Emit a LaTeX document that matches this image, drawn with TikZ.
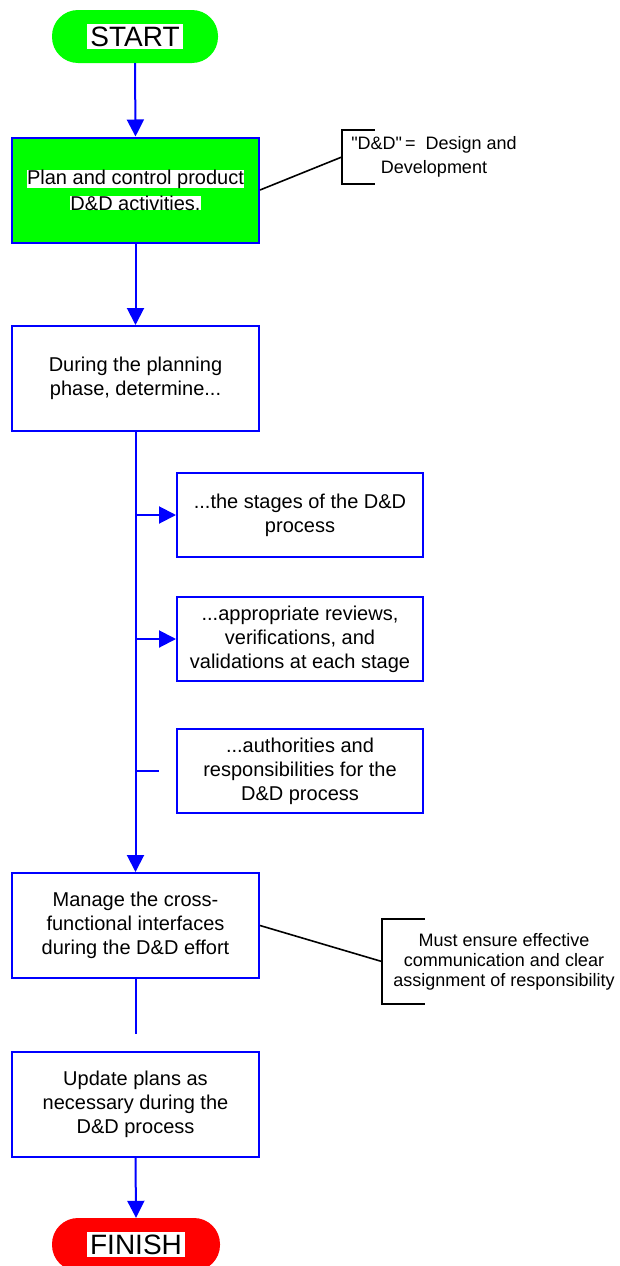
\documentclass[tikz,border=0pt]{standalone}
\usepackage{fontspec}
\setmainfont{Liberation Sans}[Ligatures=TeXOff]
\usetikzlibrary{arrows.meta}
\definecolor{flowblue}{RGB}{0,0,255}
\definecolor{flowgreen}{RGB}{0,255,0}
\definecolor{flowred}{RGB}{255,0,0}
% white band behind a line of text
\newcommand\whitebg[2][0pt]{{\setlength\fboxsep{#1}\colorbox{white}{#2}}}

\begin{document}
\begin{tikzpicture}[x=1pt,y=-1pt,
  terminal/.style={rectangle, rounded corners=26pt, minimum width=166pt,
    minimum height=53pt, inner sep=0pt, draw=none,
    font=\fontsize{28}{30}\selectfont},
  stepbox/.style={rectangle, draw=flowblue, line width=2pt, fill=white,
    minimum width=247pt, minimum height=105pt, inner sep=0pt, align=center,
    font=\fontsize{20}{24}\selectfont},
  subbox/.style={stepbox, minimum width=246pt, minimum height=84pt},
  flow/.style={draw=flowblue, line width=2pt},
  flowarrow/.style={flow, -{Triangle[length=17pt,width=17pt]}},
  note/.style={rectangle, inner sep=0pt, align=center},
  bracket/.style={draw=black, line width=2pt},
  link/.style={draw=black, line width=1.6pt},
]
\useasboundingbox (0,0) rectangle (620,1266);

% terminals
\node[terminal, fill=flowgreen] (start) at (135,36.5) {\whitebg[3pt]{START}};
\node[terminal, fill=flowred, minimum width=168pt] (finish) at (136,1244.5) {\whitebg[3pt]{FINISH}};

% main steps
\node[stepbox, fill=flowgreen] (box1) at (135.5,190)
  {\whitebg{Plan and control product}\\[2pt]\whitebg{D\&D activities.}};
\node[stepbox] (box2) at (135.5,378.5) {During the planning\\phase, determine...};
\node[stepbox] (box4) at (135.5,925.5) {Manage the cross-\\functional interfaces\\during the D\&D effort};
\node[stepbox] (box5) at (135.5,1104) {Update plans as\\necessary during the\\D\&D process};

% items to determine
\node[subbox] (subA) at (300,515) {...the stages of the D\&D\\process};
\node[subbox] (subB) at (300,639) {...appropriate reviews,\\verifications, and\\validations at each stage};
\node[subbox] (subC) at (300,771) {...authorities and\\responsibilities for the\\D\&D process};

% side notes
\node[note, minimum width=184pt, minimum height=54pt, font=\fontsize{18}{24}\selectfont]
  (note1) at (434,157) {"D\&D"\,=\ \ Design and\\Development};
\node[note, minimum width=244pt, minimum height=85pt, font=\fontsize{18}{20}\selectfont]
  (note2) at (504,961.5) {Must ensure effective\\communication and clear\\assignment of responsibility};

\draw[bracket] ([xshift=33pt]note1.north west) -- (note1.north west)
  -- (note1.south west) -- ([xshift=33pt]note1.south west);
\draw[bracket] ([xshift=43pt]note2.north west) -- (note2.north west)
  -- (note2.south west) -- ([xshift=43pt]note2.south west);
\draw[link] (box1.east) -- (note1.west);
\draw[link] (box4.east) -- (note2.west);

% flow connectors
\draw[flowarrow] (start.south) -- (box1.north);
\draw[flowarrow] (box1.south) -- (box2.north);
\draw[flowarrow] (box2.south) -- (box4.north);

\coordinate (tapA) at (box2.south |- subA.west);
\coordinate (tapB) at (box2.south |- subB.west);
\coordinate (tapC) at (box2.south |- subC.west);
\coordinate (stubC) at (159,771);
\draw[flowarrow] (tapA) -- (subA.west);
\draw[flowarrow] (tapB) -- (subB.west);
\draw[flow] (tapC) -- (stubC);

\coordinate (stub4) at (135.5,1034);
\draw[flow] (box4.south) -- (stub4);
\draw[flowarrow] (box5.south) -- (finish.north);
\end{tikzpicture}
\end{document}
